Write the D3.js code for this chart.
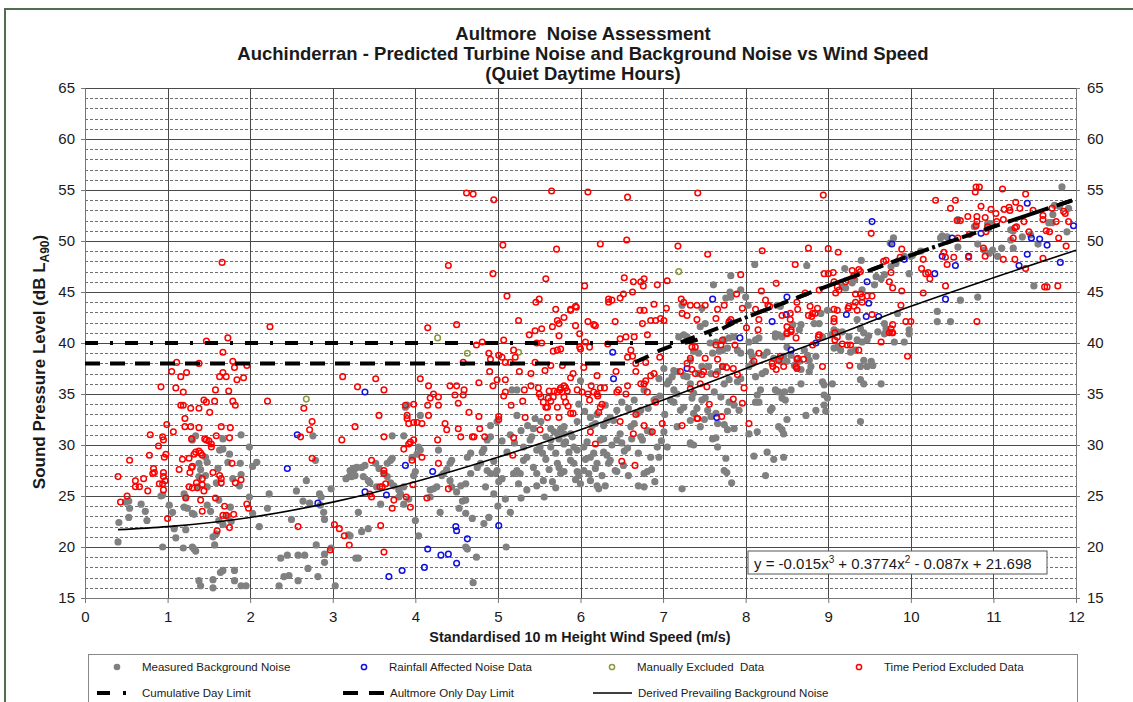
<!DOCTYPE html>
<html>
  <head>
    <meta charset="utf-8">
    <style>
      body { margin: 0; background: #fff; }
      svg text { font-family: "Liberation Sans", Arial, sans-serif; fill: #1a1a1a; }
    </style>
  </head>
  <body>
    <svg id="chart" width="1133" height="702"></svg>
  </body>
  <script src="https://d3js.org/d3.v7.min.js"></script>
  <script type="text/javascript">
    // wind speed (m/s), level (dB) pairs
    var measuredBackground = [
      [0.41,22.4],[0.40,20.5],[0.53,24.5],[0.54,23.8],[0.49,24.4],[0.68,24.2],[0.73,23.5],[0.75,22.6],[0.53,22.9],[0.92,25.0],
      [0.94,25.1],[0.94,20.0],[1.02,24.1],[1.06,23.4],[1.08,21.8],[1.10,20.9],[1.20,23.9],[1.24,23.8],[1.22,24.9],[1.20,25.2],
      [1.22,21.7],[1.30,20.0],[1.32,19.8],[1.34,19.6],[1.19,19.9],[1.30,23.3],[1.32,23.2],[1.34,30.9],[1.30,30.5],[1.38,28.2],
      [1.40,27.6],[1.38,26.9],[1.36,25.9],[1.38,16.7],[1.40,16.2],[1.46,28.8],[1.48,28.3],[1.46,27.0],[1.48,25.9],[1.48,24.1],
      [1.52,23.5],[1.55,21.0],[1.59,21.3],[1.57,20.2],[1.55,16.8],[1.55,16.0],[1.63,29.5],[1.67,29.6],[1.67,30.6],[1.61,27.7],
      [1.59,26.3],[1.62,24.6],[1.64,17.5],[1.67,17.7],[1.62,22.6],[1.67,22.2],[1.75,29.1],[1.73,28.3],[1.79,26.7],[1.76,23.9],
      [1.77,22.5],[1.73,23.0],[1.89,31.0],[1.88,28.2],[1.89,27.1],[1.87,26.0],[1.81,16.7],[1.89,16.2],[1.95,16.2],[1.81,17.7],
      [1.99,29.8],[2.03,27.9],[2.08,28.3],[1.99,24.9],[2.03,23.3],[2.11,22.0],[2.23,25.2],[2.21,23.8],[2.35,16.2],[2.41,17.1],
      [2.47,17.2],[2.37,18.9],[2.45,19.2],[2.58,16.7],[2.58,19.2],[2.66,19.2],[2.70,17.9],[2.68,26.5],[2.64,24.5],[2.56,25.5],
      [2.50,22.7],[2.72,24.3],[2.76,30.9],[2.79,28.5],[2.82,17.1],[2.84,25.2],[2.86,24.9],[2.89,23.4],[2.90,22.7],[2.85,24.1],
      [2.80,20.2],[2.90,19.3],[2.90,18.5],[2.98,25.7],[2.98,19.9],[3.03,16.2],[3.16,26.7],[3.20,26.9],[3.19,21.2],[3.26,27.6],
      [3.28,18.9],[3.21,27.5],[3.25,27.7],[3.29,27.8],[3.35,27.8],[3.39,28.0],[3.23,26.9],[3.27,27.0],[3.37,26.9],[3.43,26.5],
      [3.52,28.2],[3.56,27.7],[3.66,28.2],[3.70,28.5],[3.72,28.7],[3.72,30.9],[3.62,27.2],[3.66,26.9],[3.45,26.3],[3.53,25.9],
      [3.70,26.3],[3.74,26.0],[3.80,25.6],[3.82,25.2],[3.86,25.9],[3.88,33.7],[3.90,33.9],[3.86,30.9],[3.98,27.0],[4.00,27.4],
      [3.96,28.8],[4.02,29.1],[4.04,29.8],[4.06,29.5],[4.06,32.9],[3.31,23.4],[3.35,21.5],[3.43,21.8],[3.31,18.9],[3.21,21.1],
      [3.58,24.2],[3.80,24.9],[3.86,24.2],[3.92,24.7],[4.00,22.6],[4.04,21.1],[4.18,24.9],[4.18,25.6],[4.22,25.7],[4.26,25.9],
      [4.30,23.4],[4.28,29.5],[4.32,27.0],[4.34,27.2],[4.42,28.2],[4.44,28.5],[4.38,27.6],[4.42,26.5],[4.44,25.9],[4.50,25.4],
      [4.55,26.0],[4.61,26.2],[4.57,24.5],[4.61,24.6],[4.53,23.8],[4.61,23.3],[4.63,19.8],[4.61,20.0],[4.70,16.5],[4.74,19.0],
      [4.69,22.8],[4.83,22.3],[4.89,22.9],[4.63,28.8],[4.67,29.2],[4.67,27.2],[4.75,27.8],[4.79,28.2],[4.81,29.3],[4.83,29.6],
      [4.87,30.5],[4.91,30.8],[4.91,31.9],[4.99,32.3],[4.87,27.5],[4.91,27.2],[4.97,27.2],[4.99,27.5],[4.85,25.9],[5.01,26.4],
      [4.95,25.2],[5.09,24.7],[5.10,20.0],[5.05,26.7],[5.11,29.3],[5.19,27.2],[5.23,27.5],[5.27,27.2],[5.25,26.2],[5.31,28.5],
      [5.35,28.8],[5.39,30.5],[5.41,30.8],[5.31,29.8],[5.17,35.4],[5.23,35.4],[5.23,32.9],[5.47,29.5],[5.51,29.8],[5.54,29.2],
      [5.43,31.6],[5.43,27.8],[5.47,27.2],[5.56,24.9],[5.47,26.0],[5.58,30.8],[5.64,30.5],[5.68,31.3],[5.72,31.1],[5.64,29.8],
      [5.72,28.2],[5.74,27.8],[5.70,29.2],[5.76,27.2],[5.80,27.4],[5.80,30.1],[5.82,30.3],[5.76,31.6],[5.80,31.8],[5.88,31.1],
      [5.90,30.8],[5.92,29.8],[5.96,29.5],[5.88,28.5],[5.92,28.2],[5.96,27.4],[5.98,27.0],[6.04,27.5],[6.04,29.8],[6.08,30.3],
      [6.12,28.8],[6.16,29.2],[6.12,26.5],[6.20,26.0],[6.22,25.7],[6.20,28.2],[6.18,27.7],[6.24,30.5],[6.28,30.6],[6.14,31.9],
      [6.18,32.1],[6.28,31.9],[6.32,32.4],[6.28,29.3],[6.32,29.0],[6.34,28.2],[6.36,28.5],[6.42,27.5],[6.44,27.4],[6.53,29.4],
      [6.57,29.7],[6.44,30.5],[6.48,31.1],[6.61,31.8],[6.65,32.1],[6.77,27.2],[6.81,27.4],[6.77,25.9],[6.85,28.8],[6.93,29.8],
      [6.95,28.8],[6.73,30.8],[6.75,30.5],[6.81,31.4],[6.85,31.3],[6.69,33.1],[6.73,33.4],[6.89,34.4],[6.91,34.5],[7.09,34.4],
      [7.13,34.2],[7.05,36.0],[7.07,36.3],[7.11,36.7],[7.13,37.3],[7.17,37.2],[7.25,36.8],[7.29,36.7],[7.13,35.4],[7.17,35.0],
      [7.21,33.4],[7.25,33.7],[7.17,31.8],[7.23,25.7],[7.33,30.1],[7.37,30.0],[7.23,43.7],[7.19,40.6],[7.25,40.8],[7.29,40.6],
      [7.05,29.8],[7.01,31.3],[6.00,36.3],[7.01,37.5],[6.95,36.5],[6.77,35.4],[6.65,34.4],[6.44,33.4],[6.36,32.7],[6.40,32.4],
      [6.12,32.7],[5.96,32.3],[5.80,31.1],[5.64,31.6],[7.47,43.4],
      [5.15,31.0],[5.20,30.2],[5.28,31.4],[5.36,31.9],[5.45,32.6],[5.52,32.3],[5.58,28.6],[5.62,27.6],[5.66,26.4],[5.70,25.8],
      [5.74,30.6],[5.86,29.3],[5.94,26.6],[6.00,26.2],[6.06,28.6],[6.10,27.2],[6.26,27.0],[6.30,26.0],[6.38,30.0],[6.50,30.2],
      [6.52,28.0],[6.58,27.0],[6.62,30.6],[6.70,29.2],[6.70,26.0],[6.86,27.6],[6.90,26.4],[6.98,30.4],[7.02,33.0],[6.96,34.8],
      [6.82,33.6],[6.58,33.6],[6.50,34.2],[6.30,33.9],[6.20,33.0],[6.05,33.3],[5.98,34.0],[5.55,26.5],[5.35,25.6],[5.28,24.8],
      [5.00,24.0],[5.15,23.4],[4.95,28.4],[5.05,30.4],
      [7.61,45.7],[7.82,46.6],[8.11,47.7],[8.74,47.6],[9.20,47.3],[9.40,48.1],[9.79,50.3],[9.75,49.8],[10.00,48.5],[10.12,49.0],
      [10.36,50.3],[10.38,50.5],[10.44,50.4],[10.57,49.4],[10.81,49.7],[10.93,51.7],[10.97,51.7],[10.94,51.2],[10.99,49.1],[10.95,48.8],
      [11.05,48.5],[11.21,51.1],[11.24,51.0],[11.24,49.3],[11.35,50.4],[11.45,50.6],[11.54,49.7],[11.49,45.6],[11.67,51.8],[11.71,51.8],
      [11.74,53.5],[11.80,53.4],[11.83,55.3],[11.89,50.9],[11.91,53.2],[11.72,52.6],[10.57,52.1],[11.21,50.1],[10.77,51.4],[10.89,49.1],
      [11.10,49.3],[7.45,41.6],[7.51,41.9],[7.76,44.4],[7.82,44.5],[7.81,45.0],[8.00,44.5],[8.03,43.7],[7.94,45.2],[8.36,40.9],
      [8.38,43.7],[8.42,43.6],[8.67,41.8],[8.65,41.3],[8.57,41.8],[8.83,41.9],[8.89,41.9],[8.91,42.9],[8.99,43.2],[9.17,45.5],
      [9.21,45.4],[9.29,45.9],[9.32,46.2],[9.41,45.2],[9.56,45.7],[9.64,46.3],[9.68,46.7],[9.58,46.5],[9.76,47.5],[9.82,47.8],
      [9.92,48.5],[9.98,46.8],[10.02,48.6],[9.84,42.9],[9.98,41.3],[10.32,43.1],[10.32,42.1],[10.48,42.1],[10.60,44.2],[10.81,44.5],
      [9.35,42.3],[9.39,41.4],[9.43,41.0],[9.49,40.7],[9.68,41.9],[9.70,41.4],[9.17,41.1],[9.25,40.6],
      [7.37,39.2],[7.43,39.0],[7.33,38.3],[7.57,40.0],[7.64,40.1],[7.74,40.3],[7.80,40.5],[7.86,40.6],[7.60,39.0],[7.68,39.2],
      [7.72,39.3],[7.78,39.5],[7.90,39.3],[7.94,39.0],[8.04,40.1],[8.12,40.3],[8.16,40.5],[8.06,39.1],[8.08,38.7],[8.22,38.8],
      [8.26,39.1],[8.36,40.6],[8.40,40.8],[8.44,40.6],[8.50,39.6],[8.55,38.8],[8.34,38.5],[8.42,38.2],[8.59,37.8],[8.63,37.5],
      [8.67,37.4],[8.77,37.2],[8.79,37.7],[8.93,40.6],[9.03,40.8],[9.07,39.5],[9.11,39.6],[9.15,39.3],[8.93,36.2],[8.95,35.9],
      [9.05,36.0],[8.95,34.9],[8.99,34.6],[8.95,33.9],[8.97,33.3],[8.85,33.4],[8.73,32.9],[8.55,35.4],[8.47,35.2],[8.36,35.4],
      [8.40,35.2],[8.18,35.4],[8.14,34.9],[8.12,34.2],[8.16,34.2],[8.30,33.4],[8.32,33.6],[8.44,34.6],[8.48,34.4],[8.50,32.5],
      [8.67,36.0],[8.50,38.2],[8.46,38.7],[8.65,38.2],[8.77,38.3],[8.85,38.7],[8.71,39.3],[8.75,38.8],[8.40,31.8],[8.44,31.5],
      [8.46,31.1],[8.14,31.3],[8.04,31.1],[8.26,29.3],[8.34,28.6],[8.46,28.8],[8.10,28.9],[8.24,27.0],[7.86,31.6],[7.78,31.5],
      [7.74,32.0],[7.66,32.1],[7.60,30.6],[7.64,30.7],[7.66,29.8],[7.76,28.7],[7.74,27.5],[7.77,27.3],[7.83,26.3],[7.50,32.5],
      [7.45,31.8],[7.33,30.2],[7.54,33.4],[7.47,34.4],[7.51,34.6],[7.37,35.1],[7.35,34.6],[7.62,35.2],[7.70,34.7],[7.74,36.0],
      [7.80,36.4],[7.90,36.2],[7.94,36.5],[7.80,34.2],[7.86,33.9],[7.92,33.4],[7.58,32.8],[7.64,33.1],[7.78,33.3],[7.37,33.1],
      [7.41,33.6],[7.33,32.4],[7.43,37.0],[7.47,37.7],[7.33,36.0],[7.55,37.7],[7.58,37.0],[7.66,37.2],[7.72,37.7],[8.04,37.7],
      [8.08,38.0],[8.20,37.0],[8.24,37.2],[8.12,36.7],[9.43,38.3],[9.52,38.2],[9.54,37.8],[9.39,37.7],[9.47,37.7],[9.39,36.4],
      [9.43,36.0],[9.64,36.0],[9.39,32.3],[9.27,39.1],[9.33,39.3],[9.35,40.3],[9.41,40.1],[9.47,40.3],[9.60,41.1],[9.68,40.9],
      [9.74,41.1],[9.80,40.1],[9.92,40.1],[9.98,40.9],[9.07,41.3],[9.11,41.1]
    ];

    var rainfallAffected = [
      [2.57,31.0],[2.45,27.7],[2.82,24.3],[3.39,35.2],[3.39,25.4],[3.65,25.1],[3.88,28.0],[4.21,27.4],[4.49,22.0],[4.50,21.6],
      [4.63,20.8],[4.15,19.8],[4.31,19.2],[4.40,19.3],[4.50,18.4],[4.11,18.0],[3.84,17.7],[3.68,17.1],[5.01,22.1],[6.39,39.1],
      [6.40,36.5],[7.29,37.5],[7.60,44.3],[7.80,42.0],[7.93,40.5],[8.32,42.1],[8.50,44.5],[8.49,42.8],[9.22,42.8],[9.47,46.0],
      [9.49,43.9],[9.46,42.6],[9.61,42.6],[9.53,51.9],[9.77,49.7],[9.92,48.2],[10.29,46.8],[10.38,48.5],[10.54,47.6],[10.42,44.3],
      [10.50,50.3],[10.70,48.5],[10.85,50.75],[11.31,47.6],[11.41,48.7],[11.41,53.7],[11.46,50.3],[11.56,50.2],[11.65,49.6],[11.81,47.9],
      [11.97,51.5],[8.55,39.3],[8.85,40.0],[7.65,32.7]
    ];

    var manuallyExcluded = [[2.68,34.5],[4.27,40.5],[4.63,39.0],[5.25,39.1],[7.19,47.0]];

    var timePeriodExcluded = [
      [1.66,47.9],[0.40,26.9],[0.43,24.4],[0.51,25.0],[0.54,28.5],[0.61,26.5],[0.61,25.9],[0.66,25.9],[0.71,26.7],[0.76,25.5],
      [0.79,31.0],[0.78,29.0],[0.83,27.7],[0.84,27.3],[0.82,27.2],[0.89,29.9],[0.90,26.2],[0.92,35.7],[0.94,30.8],[0.95,30.5],
      [0.95,27.3],[0.95,26.9],[0.96,28.8],[0.98,29.1],[0.94,26.2],[0.97,26.5],[0.95,25.6],[0.99,32.0],[1.00,22.8],[1.05,37.2],
      [1.07,31.3],[1.10,35.6],[1.16,36.7],[1.11,38.1],[1.16,33.9],[1.19,33.9],[1.19,35.2],[1.21,32.6],[1.21,31.8],[1.28,31.8],
      [1.23,37.1],[1.14,27.6],[1.18,28.6],[1.22,24.8],[1.26,25.9],[1.26,28.7],[1.32,29.1],[1.28,33.6],[1.27,27.3],[1.29,27.8],
      [1.30,27.9],[1.29,30.6],[1.30,25.8],[1.34,29.3],[1.38,29.4],[1.40,29.2],[1.36,25.8],[1.35,26.3],[1.38,31.7],[1.38,33.6],
      [1.38,38.0],[1.40,24.6],[1.42,29.0],[1.42,26.1],[1.42,23.5],[1.44,34.4],[1.42,26.7],[1.45,30.6],[1.47,30.5],[1.50,30.4],
      [1.53,30.1],[1.53,29.8],[1.44,25.5],[1.47,40.2],[1.47,34.2],[1.51,33.2],[1.55,27.3],[1.57,34.3],[1.58,35.4],[1.58,24.8],
      [1.59,30.9],[1.60,21.6],[1.63,27.0],[1.65,26.7],[1.65,26.3],[1.63,36.7],[1.67,37.1],[1.71,36.7],[1.65,31.8],[1.67,39.1],
      [1.67,23.1],[1.71,23.1],[1.69,24.0],[1.73,40.5],[1.74,35.3],[1.75,30.7],[1.76,31.7],[1.75,21.9],[1.78,28.2],[1.79,34.3],
      [1.80,23.2],[1.79,38.2],[1.81,37.6],[1.82,33.9],[1.82,26.3],[1.84,36.4],[1.89,26.6],[1.92,36.6],[1.96,37.8],[1.96,24.2],
      [1.98,23.8],[2.21,34.3],[2.24,41.6],[2.58,22.0],[2.61,30.8],[2.65,33.6],[2.75,32.3],[2.72,31.5],[2.75,28.7],[2.97,19.7],
      [3.02,22.2],[3.08,21.8],[3.12,36.7],[3.11,30.5],[3.14,21.1],[3.20,20.2],[3.27,31.8],[3.30,35.7],
      [3.52,36.5],[3.62,35.4],[3.56,32.9],[3.62,30.8],[3.47,28.5],[3.62,27.5],[3.62,27.2],[3.64,26.2],[3.60,25.9],[3.47,24.9],
      [3.45,25.2],[3.57,25.9],[3.74,24.6],[3.72,23.8],[3.58,22.1],[3.62,19.5],[3.88,33.9],[3.90,32.9],[3.90,32.6],[3.92,32.1],
      [3.98,32.2],[4.02,32.2],[4.08,32.1],[3.98,34.0],[3.86,29.6],[3.92,30.1],[3.94,30.3],[3.98,30.5],[3.96,28.5],[3.89,24.9],
      [3.94,23.9],[3.97,26.1],[4.06,36.5],[4.15,41.5],[4.16,35.8],[4.18,34.6],[4.22,35.0],[4.28,34.7],[4.15,33.9],[4.28,33.9],
      [4.16,32.9],[4.08,28.8],[4.14,24.8],[4.27,30.5],[4.28,28.2],[4.36,32.1],[4.38,31.5],[4.40,25.7],[4.42,35.8],[4.50,35.8],
      [4.48,34.9],[4.58,34.9],[4.52,34.1],[4.50,41.8],[4.52,31.6],[4.55,30.8],[4.59,35.4],[4.65,33.2],[4.69,30.8],[4.71,30.8],
      [4.74,39.8],[4.77,32.8],[4.77,36.1],[4.78,31.6],[4.84,30.8],[4.81,40.1],[4.58,38.1],[4.89,39.0],[4.91,38.4],[4.90,37.2],
      [4.94,35.8],[4.99,36.4],[5.09,36.4],[5.01,32.8],[5.01,32.5],[5.01,38.8],[5.05,38.6],[5.09,38.1],[5.15,38.1],[5.07,40.3],
      [5.07,34.8],[5.09,35.2],[5.16,33.9],[5.19,39.3],[5.19,30.7],[5.18,29.0],[5.21,38.6],[5.25,42.2],[5.26,37.2],[5.30,34.3],
      [5.32,35.4],[5.33,32.7],[5.38,40.8],[5.40,37.0],[5.40,35.8],[5.45,41.2],[5.45,38.1],[5.47,40.0],[5.49,35.6],[5.50,35.0],
      [5.52,34.7],[5.51,31.5],[5.53,41.4],[5.53,40.0],[5.55,34.2],[5.58,33.7],[5.60,33.7],[5.57,37.3],[5.60,32.7],[5.61,34.6],
      [5.64,34.3],[5.67,34.7],[5.62,35.3],[5.68,35.3],[5.72,35.2],[5.75,35.4],[5.78,35.2],[5.82,35.6],[5.84,35.3],[5.64,37.8],
      [5.67,39.2],[5.72,39.3],[5.76,39.4],[5.66,41.6],[5.74,41.9],[5.74,40.7],[5.72,42.2],[5.80,42.5],[5.74,32.7],[5.72,33.7],
      [5.76,35.6],[5.80,35.8],[5.78,37.8],[5.80,34.7],[5.82,34.2],[5.85,33.8],[5.88,36.6],[5.91,37.0],[5.88,33.1],[5.91,33.1],
      [5.94,41.7],[5.95,43.5],[5.88,43.2],[5.99,40.9],[5.96,35.4],[6.02,35.2],[5.99,39.6],[6.00,39.4],[6.04,37.6],[6.06,40.1],
      [6.09,35.0],[6.11,34.4],[6.09,42.1],[6.16,41.8],[6.18,41.7],[6.11,39.6],[6.12,31.3],[6.13,35.8],[6.16,35.2],[6.20,35.0],
      [6.21,34.8],[6.18,30.1],[6.20,36.8],[6.22,33.2],[6.24,33.7],[6.26,34.0],[6.24,35.6],[6.29,35.6],[6.33,39.9],[6.34,44.0],
      [6.44,35.2],[6.46,35.4],[6.43,37.2],[6.42,42.1],[6.48,40.4],[6.48,32.3],[6.50,28.4],[6.55,40.6],[6.65,40.6],[6.57,38.6],
      [6.63,38.7],[6.67,38.0],[6.55,35.0],[6.57,35.8],[6.61,39.3],[6.64,31.1],[6.67,37.2],[6.66,28.0],[6.67,33.0],[6.72,43.2],
      [6.77,43.2],[6.75,41.9],[6.73,36.0],[6.77,36.0],[6.79,36.3],[6.77,31.9],[6.81,40.8],[6.79,38.1],[6.81,35.2],[6.85,42.2],
      [6.91,42.2],[6.97,42.4],[7.01,42.2],[6.85,36.8],[6.89,37.0],[6.87,31.3],[6.89,43.8],[6.91,34.2],[6.96,38.6],[6.99,32.1],
      [7.25,44.0],[7.33,43.7],[7.23,42.9],[7.29,42.7],[7.35,39.6],[7.29,38.0],[7.33,38.5],[7.42,32.6],[7.21,37.2],[7.23,31.9],
      [4.62,54.7],[4.70,54.6],[4.95,54.05],[5.65,54.9],[6.09,54.8],[6.57,54.3],[7.42,54.7],[5.06,49.6],[5.71,49.2],[6.24,49.7],
      [6.56,50.1],[7.18,49.5],[7.54,48.7],[4.40,47.6],[4.94,46.8],[5.58,46.3],[6.05,45.6],[6.53,46.4],[6.64,46.0],[6.73,46.0],
      [6.77,46.3],[6.76,45.6],[6.93,45.7],[7.05,46.1],[5.11,44.6],[5.50,44.3],[5.46,44.0],[6.52,44.8],[6.63,45.0],[6.48,44.4],
      [6.34,44.3],[6.38,44.2],[7.22,44.3],[7.51,43.7],[5.70,43.3],[5.88,43.3],[5.94,43.6],[7.04,43.4],
      [8.94,54.5],[8.20,49.05],[8.76,49.3],[9.00,49.25],[9.12,48.9],[8.60,47.7],[7.94,46.7],[8.37,45.85],[7.89,44.8],[8.19,45.1],
      [8.24,44.2],[8.27,43.7],[8.29,43.6],[7.74,43.7],[7.96,43.4],[8.12,43.3],[8.44,42.7],[8.54,42.9],[8.54,42.3],[8.63,43.3],
      [8.62,44.0],[8.72,44.9],[8.78,43.6],[8.81,42.9],[8.84,42.9],[8.76,42.7],[8.80,42.6],[8.89,45.2],[8.87,43.4],[8.95,46.8],
      [9.00,46.8],[9.06,46.9],[9.07,46.0],[9.11,45.5],[9.13,45.2],[9.09,44.9],[9.07,43.3],[9.11,43.2],[9.07,42.4],[9.07,42.1],
      [9.21,46.0],[9.24,43.4],[9.29,47.1],[9.31,46.6],[9.37,47.2],[9.39,47.0],[9.33,44.8],[9.39,44.8],[9.41,44.5],[9.47,44.6],
      [9.33,44.0],[9.31,43.6],[9.35,43.2],[9.53,42.8],[9.67,48.0],[9.70,48.1],[9.76,46.9],[9.74,46.0],[9.78,45.4],[9.89,49.2],
      [9.89,45.1],[9.88,43.7],[9.78,41.8],[9.78,41.0],[9.94,42.1],[10.00,42.1],[9.87,48.4],[9.52,50.75],[10.15,48.2],[10.13,47.3],
      [10.18,46.8],[10.21,46.9],[10.23,46.3],[10.15,44.9],[10.30,54.0],[10.42,45.6],[10.40,48.9],[10.42,48.4],[10.52,48.4],[10.44,47.7],
      [10.54,54.0],[10.48,53.2],[10.56,52.0],[10.60,52.0],[10.69,52.4],[10.79,55.3],[10.83,55.3],[10.78,54.8],[10.80,52.4],[10.80,51.9],
      [10.79,51.5],[10.85,53.4],[10.90,52.3],[10.91,50.9],[10.93,51.4],[10.71,50.65],[10.57,50.3],[10.70,48.4],[10.88,49.3],[10.90,48.5],
      [10.80,42.1],[10.97,53.1],[11.03,52.7],[11.11,55.1],[11.13,53.1],[11.19,53.3],[11.20,53.0],[11.12,52.1],[11.04,51.9],[11.27,53.8],
      [11.28,51.4],[11.26,51.3],[11.24,50.3],[11.32,53.2],[11.39,54.6],[11.37,51.9],[11.43,50.9],[11.48,53.0],[11.60,52.5],[11.60,52.1],
      [11.64,51.0],[11.68,50.9],[11.62,45.5],[11.65,45.5],[11.71,53.2],[11.76,51.9],[11.79,50.3],[11.78,45.6],[11.85,52.9],[11.87,52.7],
      [11.91,51.9],[11.88,49.5],[11.12,48.2],[11.26,48.2],[11.60,48.3],[11.39,47.3],[7.41,43.7],[7.66,43.3],[7.64,42.4],[7.41,42.3],
      [7.82,42.3],[7.80,42.1],[8.01,41.5],[8.16,42.3],[8.15,41.3],[8.50,41.6],[8.50,41.0],[8.55,41.1],[8.89,40.8],[9.08,41.0],
      [9.11,40.6],[9.25,43.6],[9.41,44.0],[9.53,44.6],[9.74,41.0],[9.76,41.4],
      [7.72,40.3],[7.64,39.8],[7.70,39.8],[7.39,39.6],[7.51,38.5],[7.66,38.4],[7.72,37.7],[7.77,37.6],[7.85,37.5],[7.35,37.4],
      [7.39,37.0],[7.47,36.9],[7.49,37.2],[7.64,36.9],[7.90,36.9],[7.45,36.0],[7.53,35.7],[7.33,35.5],[7.87,39.8],[7.98,35.6],
      [7.85,34.5],[7.96,34.1],[7.56,34.0],[7.41,32.6],[7.71,32.8],[8.04,32.1],[8.10,38.2],[8.16,39.0],[8.32,38.0],[8.33,37.7],
      [8.40,38.3],[8.37,37.4],[8.50,40.9],[8.55,41.3],[8.61,40.5],[8.62,38.4],[8.63,38.5],[8.70,38.4],[8.62,37.5],[8.61,37.7],
      [8.46,37.7],[8.42,38.7],[8.81,39.8],[8.88,40.6],[8.93,37.7],[9.08,40.3],[9.17,39.9],[9.23,39.8],[9.27,39.8],[9.26,37.8],
      [9.37,39.3],[9.64,40.1],[9.77,41.0],[9.96,38.7]
    ];

    // limit and background curves, read at a few wind speeds
    var cumulativeLimit = [[0,40],[7.2,40],[8,42.5],[9,45.6],[10,48.6],[11,51.4],[12,54.1]];
    var aultmoreLimit = [[0,38],[6.55,38],[7,39.4],[8,42.5],[9,45.6],[10,48.6],[11,51.4],[12,54.1]];
    var derivedBackground = [[0.4,21.7],[1,22.0],[2,22.9],[3,24.4],[4,26.4],[5,28.8],[6,31.5],[7,34.4],[8,37.5],[9,40.5],[10,43.6],[11,46.4],[12,49.1]];

    var xTicks = [0,1,2,3,4,5,6,7,8,9,10,11,12];
    var yTicks = [15,20,25,30,35,40,45,50,55,60,65];

    var plotLeft = 85, plotRight = 1076, plotTop = 88, plotBottom = 598;
    var svg = d3.select("#chart");

    var x = d3.scaleLinear().domain([0, 12]).range([plotLeft, plotRight]);
    var y = d3.scaleLinear().domain([15, 65]).range([plotBottom, plotTop]);

    // outer frame
    svg.append("rect")
      .attr("x", 5).attr("y", 9)
      .attr("width", 1140).attr("height", 720)
      .attr("fill", "none")
      .attr("stroke", "#4f6e4d")
      .attr("stroke-width", 2);

    // title
    var titles = ["Aultmore  Noise Assessment",
                  "Auchinderran - Predicted Turbine Noise and Background Noise vs Wind Speed",
                  "(Quiet Daytime Hours)"];
    svg.append("g").selectAll("text")
      .data(titles)
      .enter().append("text")
      .attr("x", 583)
      .attr("y", function(d, i) { return 40 + i * 20; })
      .attr("text-anchor", "middle")
      .style("font-size", "18.5px")
      .style("font-weight", "bold")
      .style("white-space", "pre")
      .text(function(d) { return d; });

    // minor dashed gridlines every 1 dB
    var minor = d3.range(16, 65).filter(function(v) { return v % 5 !== 0; });
    svg.append("g").selectAll("line")
      .data(minor)
      .enter().append("line")
      .attr("x1", plotLeft).attr("x2", plotRight)
      .attr("y1", function(d) { return Math.round(y(d)) + 0.5; })
      .attr("y2", function(d) { return Math.round(y(d)) + 0.5; })
      .attr("stroke", "#6e6e6e")
      .attr("stroke-dasharray", "3,2");

    // major gridlines
    svg.append("g").selectAll("line")
      .data(yTicks)
      .enter().append("line")
      .attr("x1", plotLeft).attr("x2", plotRight)
      .attr("y1", function(d) { return Math.round(y(d)) + 0.5; })
      .attr("y2", function(d) { return Math.round(y(d)) + 0.5; })
      .attr("stroke", "#4a4a4a");

    svg.append("g").selectAll("line")
      .data(xTicks)
      .enter().append("line")
      .attr("y1", plotTop).attr("y2", plotBottom)
      .attr("x1", function(d) { return Math.round(x(d)) + 0.5; })
      .attr("x2", function(d) { return Math.round(x(d)) + 0.5; })
      .attr("stroke", "#4a4a4a");

    // axes
    function styleAxis(g) {
      g.select(".domain").attr("stroke", "#777");
      g.selectAll(".tick line").attr("stroke", "#777");
      g.selectAll(".tick text").style("font-size", "15px").attr("fill", "#1a1a1a");
    }
    svg.append("g")
      .attr("transform", "translate(" + plotLeft + ",0)")
      .call(d3.axisLeft(y).tickValues(yTicks).tickSize(4).tickSizeOuter(0).tickPadding(6))
      .call(styleAxis);
    svg.append("g")
      .attr("transform", "translate(" + plotRight + ",0)")
      .call(d3.axisRight(y).tickValues(yTicks).tickSize(4).tickSizeOuter(0).tickPadding(7))
      .call(styleAxis);
    svg.append("g")
      .attr("transform", "translate(0," + plotBottom + ")")
      .call(d3.axisBottom(x).tickValues(xTicks).tickSize(5).tickSizeOuter(0).tickPadding(8))
      .call(styleAxis);

    // axis titles
    svg.append("text")
      .attr("x", 580).attr("y", 642)
      .attr("text-anchor", "middle")
      .style("font-size", "14.4px").style("font-weight", "bold")
      .text("Standardised 10 m Height Wind Speed (m/s)");

    var yTitle = svg.append("text")
      .attr("transform", "translate(45,362) rotate(-90)")
      .attr("text-anchor", "middle")
      .style("font-size", "17px").style("font-weight", "bold");
    yTitle.append("tspan").text("Sound Pressure Level (dB L");
    yTitle.append("tspan").attr("dy", 4).style("font-size", "12px").text("A90");
    yTitle.append("tspan").attr("dy", -4).text(")");

    // scatter series
    var plot = svg.append("g");
    plot.selectAll(".bg").data(measuredBackground).enter().append("circle")
      .attr("cx", function(d) { return x(d[0]); })
      .attr("cy", function(d) { return y(d[1]); })
      .attr("r", 3.6)
      .attr("fill", "#808080");

    function hollow(data, colour) {
      plot.append("g").selectAll("circle").data(data).enter().append("circle")
        .attr("cx", function(d) { return x(d[0]); })
        .attr("cy", function(d) { return y(d[1]); })
        .attr("r", 2.8)
        .attr("fill", "none")
        .attr("stroke", colour)
        .attr("stroke-width", 1.5);
    }
    hollow(rainfallAffected, "#1010e0");
    hollow(manuallyExcluded, "#8a9a3c");
    hollow(timePeriodExcluded, "#ff0000");

    // curves
    var line = d3.line()
      .x(function(d) { return x(d[0]); })
      .y(function(d) { return y(d[1]); })
      .curve(d3.curveMonotoneX);

    svg.append("path").datum(derivedBackground)
      .attr("d", line).attr("fill", "none")
      .attr("stroke", "#000").attr("stroke-width", 1.6);
    svg.append("path").datum(cumulativeLimit)
      .attr("d", line).attr("fill", "none")
      .attr("stroke", "#000").attr("stroke-width", 4)
      .attr("stroke-dasharray", "13,12,3,12");
    svg.append("path").datum(aultmoreLimit)
      .attr("d", line).attr("fill", "none")
      .attr("stroke", "#000").attr("stroke-width", 4)
      .attr("stroke-dasharray", "15,10");

    // equation box
    svg.append("rect")
      .attr("x", 748).attr("y", 551).attr("width", 299).attr("height", 23)
      .attr("fill", "#fff").attr("stroke", "#555");
    var eq = svg.append("text")
      .attr("x", 754).attr("y", 569)
      .style("font-size", "15px");
    eq.append("tspan").text("y = -0.015x");
    eq.append("tspan").attr("dy", -6).style("font-size", "10px").text("3");
    eq.append("tspan").attr("dy", 6).text(" + 0.3774x");
    eq.append("tspan").attr("dy", -6).style("font-size", "10px").text("2");
    eq.append("tspan").attr("dy", 6).text(" - 0.087x + 21.698");

    // legend
    svg.append("rect")
      .attr("x", 88.5).attr("y", 654.5).attr("width", 989).attr("height", 70)
      .attr("fill", "#fff").attr("stroke", "#888");

    var legendMarks = [
      { label: "Measured Background Noise", x: 117, fill: "#808080", stroke: "none" },
      { label: "Rainfall Affected Noise Data", x: 364, fill: "none", stroke: "#1010e0" },
      { label: "Manually Excluded  Data", x: 612, fill: "none", stroke: "#8a9a3c" },
      { label: "Time Period Excluded Data", x: 859, fill: "none", stroke: "#ff0000" }
    ];
    var lg = svg.append("g");
    legendMarks.forEach(function(m) {
      lg.append("circle")
        .attr("cx", m.x).attr("cy", 667)
        .attr("r", m.stroke === "none" ? 3.3 : 2.6)
        .attr("fill", m.fill).attr("stroke", m.stroke).attr("stroke-width", 1.5);
      lg.append("text")
        .attr("x", m.x + 25).attr("y", 671)
        .style("font-size", "11.5px").style("white-space", "pre")
        .text(m.label);
    });

    var legendLines = [
      { label: "Cumulative Day Limit", x1: 97, x2: 127, dash: "13,13,3,13", w: 4 },
      { label: "Aultmore Only Day Limit", x1: 343, x2: 385, dash: "15,11", w: 4 },
      { label: "Derived Prevailing Background Noise", x1: 593, x2: 632, dash: null, w: 1.3 }
    ];
    var textX = [142, 390, 638];
    legendLines.forEach(function(l, i) {
      lg.append("line")
        .attr("x1", l.x1).attr("x2", l.x2)
        .attr("y1", 693).attr("y2", 693)
        .attr("stroke", "#000").attr("stroke-width", l.w)
        .attr("stroke-dasharray", l.dash);
      lg.append("text")
        .attr("x", textX[i]).attr("y", 697)
        .style("font-size", "11.5px")
        .text(l.label);
    });
  </script>
</html>
